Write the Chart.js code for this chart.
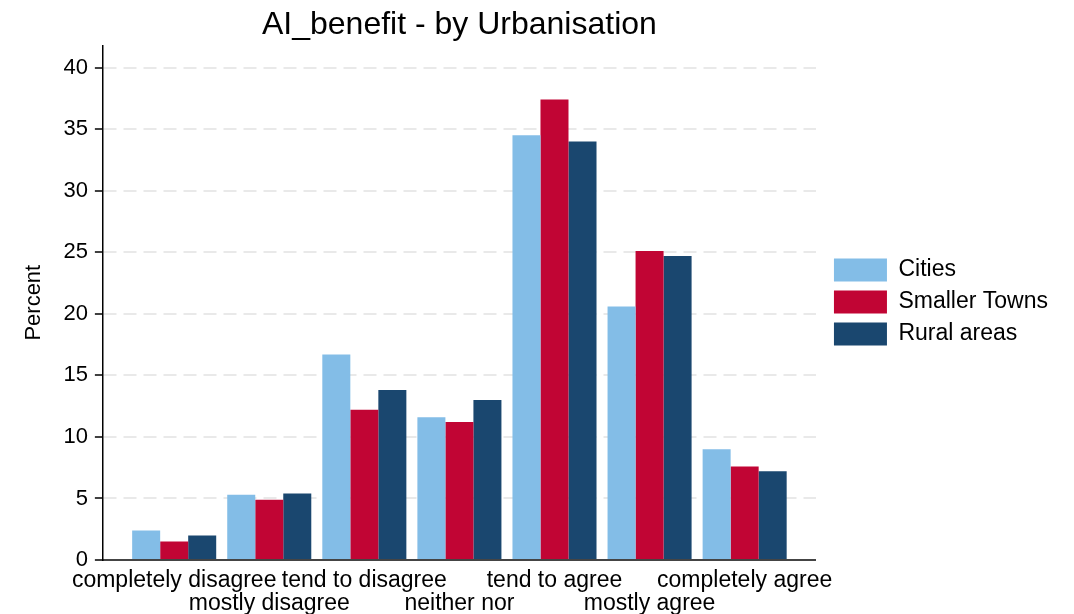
<!DOCTYPE html>
<html>
<head>
<meta charset="utf-8">
<script src="https://cdn.jsdelivr.net/npm/chart.js@4.4.1/dist/chart.umd.min.js"></script>
<style>
  html, body { margin: 0; padding: 0; background: #fff; }
  #wrap { width: 1074px; height: 614px; }
</style>
</head>
<body>
<div id="wrap"><canvas id="chart"></canvas></div>
<script>
const categories = ["completely disagree", "mostly disagree", "tend to disagree", "neither nor", "tend to agree", "mostly agree", "completely agree"];
const cities = [2.4, 5.3, 16.7, 11.6, 34.5, 20.6, 9.0];
const towns = [1.5, 4.9, 12.2, 11.2, 37.4, 25.1, 7.6];
const rural = [2.0, 5.4, 13.8, 13.0, 34.0, 24.7, 7.2];
const yTicks = [0, 5, 10, 15, 20, 25, 30, 35, 40];

const FONT = "'Liberation Sans', Arial, Helvetica, sans-serif";

// bars sit on a numeric x axis (1..7) so the plot can have wider side margins
const toPoints = arr => arr.map((v, i) => ({ x: i + 1, y: v }));

const series = [
  { label: "Cities", data: cities, color: "#83bde7" },
  { label: "Smaller Towns", data: towns, color: "#c10534" },
  { label: "Rural areas", data: rural, color: "#1a476f" }
];

// nudge the legend: a bit away from the plot and slightly up
const legendShift = {
  id: "legendShift",
  afterLayout(chart) {
    const lg = chart.legend;
    if (!lg) return;
    lg.left += 9;
    lg.right += 9;
    lg.top -= 5;
    lg.bottom -= 5;
  }
};

new Chart(document.getElementById("chart"), {
  type: "bar",
  data: {
    datasets: series.map(s => ({
      label: s.label,
      data: toPoints(s.data),
      backgroundColor: s.color,
      borderWidth: 0,
      barPercentage: 1,
      categoryPercentage: 0.884
    }))
  },
  options: {
    responsive: true,
    maintainAspectRatio: false,
    animation: false,
    layout: { padding: { left: 0, right: 25, top: 0, bottom: 0 } },
    plugins: {
      title: {
        display: true,
        fullSize: false,
        text: "AI_benefit - by Urbanisation",
        color: "#000",
        font: { family: FONT, size: 32, weight: "normal" },
        padding: { top: 6, bottom: 1 }
      },
      legend: {
        position: "right",
        labels: {
          color: "#000",
          font: { family: FONT, size: 23 },
          boxWidth: 53,
          boxHeight: 23,
          padding: 9
        }
      },
      tooltip: { enabled: false }
    },
    scales: {
      x: {
        type: "linear",
        offset: false,
        min: 0.25,
        max: 7.75,
        grid: { display: false, drawTicks: false },
        border: { display: true, color: "#444", width: 2 },
        afterBuildTicks: scale => {
          scale.ticks = categories.map((c, i) => ({ value: i + 1 }));
        },
        afterFit: scale => {
          scale.height = 54;
        },
        ticks: {
          autoSkip: false,
          maxRotation: 0,
          minRotation: 0,
          padding: 9,
          color: "#000",
          font: { family: FONT, size: 23, lineHeight: 1.0 },
          // alternate labels drop to a second row
          callback: v => {
            const i = Math.round(v) - 1;
            return i % 2 === 0 ? categories[i] : ["", categories[i]];
          }
        }
      },
      y: {
        min: 0,
        max: 41.8,
        afterBuildTicks: scale => {
          scale.ticks = yTicks.map(v => ({ value: v }));
        },
        grid: {
          color: "#e9e9e9",
          lineWidth: 2,
          tickColor: "#000",
          tickLength: 8,
          tickWidth: 1.5,
          tickBorderDash: []
        },
        border: { display: true, color: "#000", width: 1.5, dash: [13, 7] },
        ticks: {
          padding: 7,
          color: "#000",
          font: { family: FONT, size: 22 }
        },
        title: {
          display: true,
          text: "Percent",
          color: "#000",
          font: { family: FONT, size: 22 },
          padding: { top: 21, bottom: 9 }
        }
      }
    }
  },
  plugins: [legendShift]
});
</script>
</body>
</html>
